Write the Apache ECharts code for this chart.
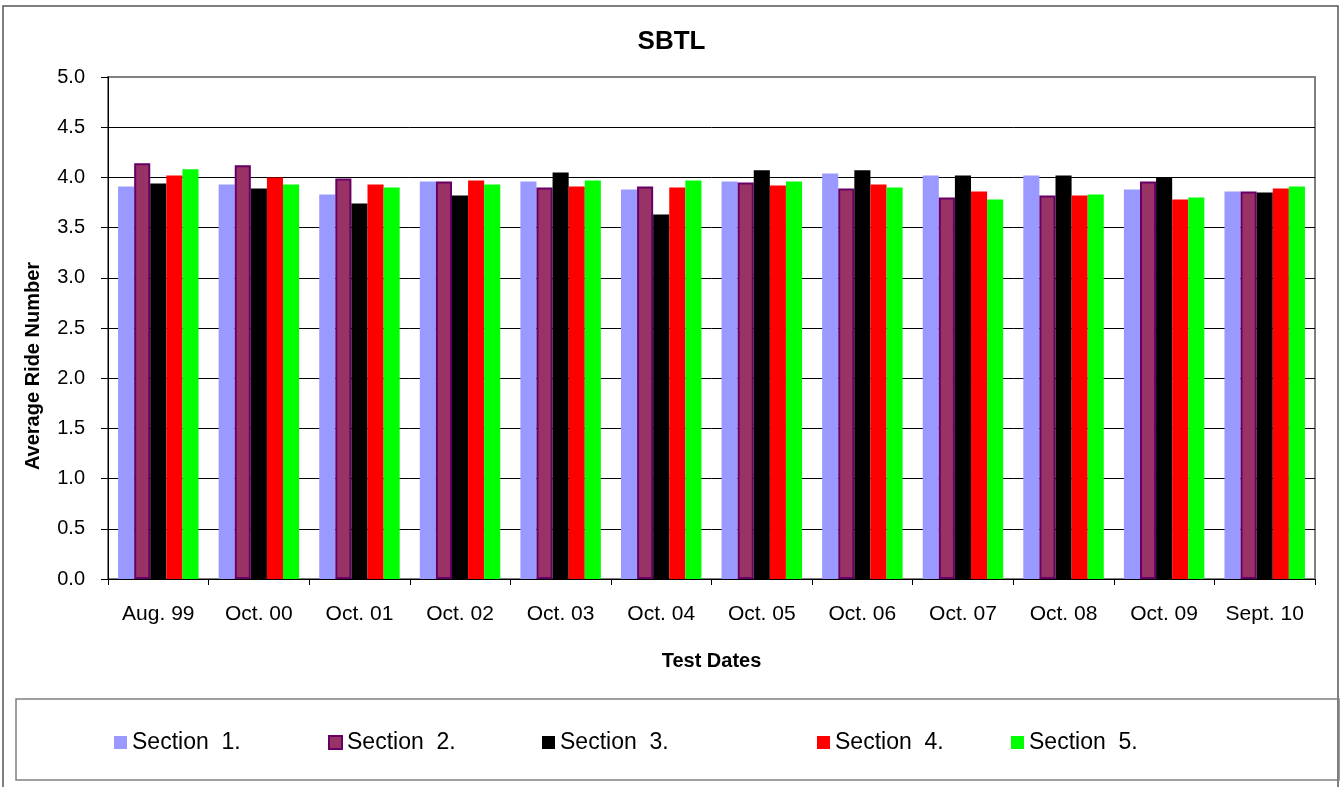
<!DOCTYPE html>
<html>
<head>
<meta charset="utf-8">
<script src="https://cdn.jsdelivr.net/npm/echarts@6/dist/echarts.min.js"></script>
<style>
  html, body { margin: 0; padding: 0; background: #fff; }
  #main { width: 1343px; height: 787px; }
</style>
</head>
<body>
<div id="main"></div>
<script>
// categories and values
var dates = ['Aug. 99', 'Oct. 00', 'Oct. 01', 'Oct. 02', 'Oct. 03', 'Oct. 04',
             'Oct. 05', 'Oct. 06', 'Oct. 07', 'Oct. 08', 'Oct. 09', 'Sept. 10'];
var section1 = [3.91, 3.93, 3.83, 3.96, 3.96, 3.88, 3.96, 4.04, 4.02, 4.02, 3.88, 3.86];
var section2 = [4.14, 4.12, 3.99, 3.96, 3.90, 3.91, 3.95, 3.89, 3.80, 3.82, 3.96, 3.86];
var section3 = [3.94, 3.89, 3.74, 3.82, 4.05, 3.63, 4.07, 4.07, 4.02, 4.02, 4.00, 3.85];
var section4 = [4.02, 4.00, 3.93, 3.97, 3.91, 3.90, 3.92, 3.93, 3.86, 3.82, 3.78, 3.89];
var section5 = [4.08, 3.93, 3.90, 3.93, 3.97, 3.97, 3.96, 3.90, 3.78, 3.83, 3.80, 3.91];
var names = ['Section  1.', 'Section  2.', 'Section  3.', 'Section  4.', 'Section  5.'];

var font = '"Liberation Sans", Arial, sans-serif';
var colors = ['#9999FF', '#993366', '#000000', '#FF0000', '#00FF00'];
var allData = [section1, section2, section3, section4, section5];
var legendLeft = [114, 328, 542, 817, 1011];

var myChart = echarts.init(document.getElementById('main'));

// split line colours: last one (5.0) is grey like the plot border
var splitColors = [];
for (var i = 0; i < 10; i++) splitColors.push('#000');
splitColors.push('#808080');

var series = [];
var legends = [];
for (var k = 0; k < 5; k++) {
    series.push({
        name: names[k],
        type: 'bar',
        data: allData[k],
        barGap: '0%',
        barCategoryGap: '20%',
        itemStyle: k === 1
            ? { color: colors[k], borderColor: '#660066', borderWidth: 2 }
            : { color: colors[k] }
    });
    legends.push({
        data: [names[k]],
        left: legendLeft[k] - 5,
        top: 726,
        itemWidth: 13,
        itemHeight: 13,
        icon: 'rect',
        textStyle: { fontFamily: font, fontSize: 23, color: '#000' },
        selectedMode: false
    });
}

var option = {
    animation: false,
    backgroundColor: '#fff',
    title: {
        text: 'SBTL',
        left: 'center',
        top: 24,
        textStyle: { fontFamily: font, fontSize: 26, fontWeight: 'bold', color: '#000' }
    },
    legend: legends,
    grid: {
        left: 108, right: 28, top: 77, bottom: 208,
        show: true,
        borderColor: '#808080',
        borderWidth: 2,
        containLabel: false
    },
    xAxis: {
        type: 'category',
        data: dates,
        name: 'Test Dates',
        nameLocation: 'middle',
        nameGap: 72,
        nameTextStyle: { fontFamily: font, fontSize: 20, fontWeight: 'bold', color: '#000' },
        axisLine: { lineStyle: { color: '#000', width: 1 } },
        axisTick: { show: true, length: 6, lineStyle: { color: '#000' } },
        axisLabel: { fontFamily: font, fontSize: 21, color: '#000', margin: 25, interval: 0 }
    },
    yAxis: {
        type: 'value',
        min: 0,
        max: 5,
        interval: 0.5,
        name: 'Average Ride Number',
        nameLocation: 'middle',
        nameGap: 65,
        // pushed down a bit, like the original
        nameTextStyle: {
            fontFamily: font, fontSize: 20, fontWeight: 'bold', color: '#000',
            padding: [0, 76, 0, 0]
        },
        axisLine: { show: true, lineStyle: { color: '#000', width: 1 } },
        axisTick: { show: true, length: 7, lineStyle: { color: '#000' } },
        axisLabel: {
            fontFamily: font, fontSize: 20, color: '#000', margin: 23,
            formatter: function (v) { return v.toFixed(1); }
        },
        splitLine: { show: true, lineStyle: { color: splitColors, width: 1 } }
    },
    graphic: [
        {
            type: 'rect',
            shape: { x: 3, y: 6, width: 1335, height: 785 },
            style: { fill: 'none', stroke: '#555', lineWidth: 1.5 },
            silent: true
        },
        {
            type: 'rect',
            shape: { x: 16, y: 699, width: 1323, height: 81 },
            style: { fill: 'none', stroke: '#808080', lineWidth: 1.5 },
            silent: true
        }
    ],
    series: series
};

myChart.setOption(option);
</script>
</body>
</html>
